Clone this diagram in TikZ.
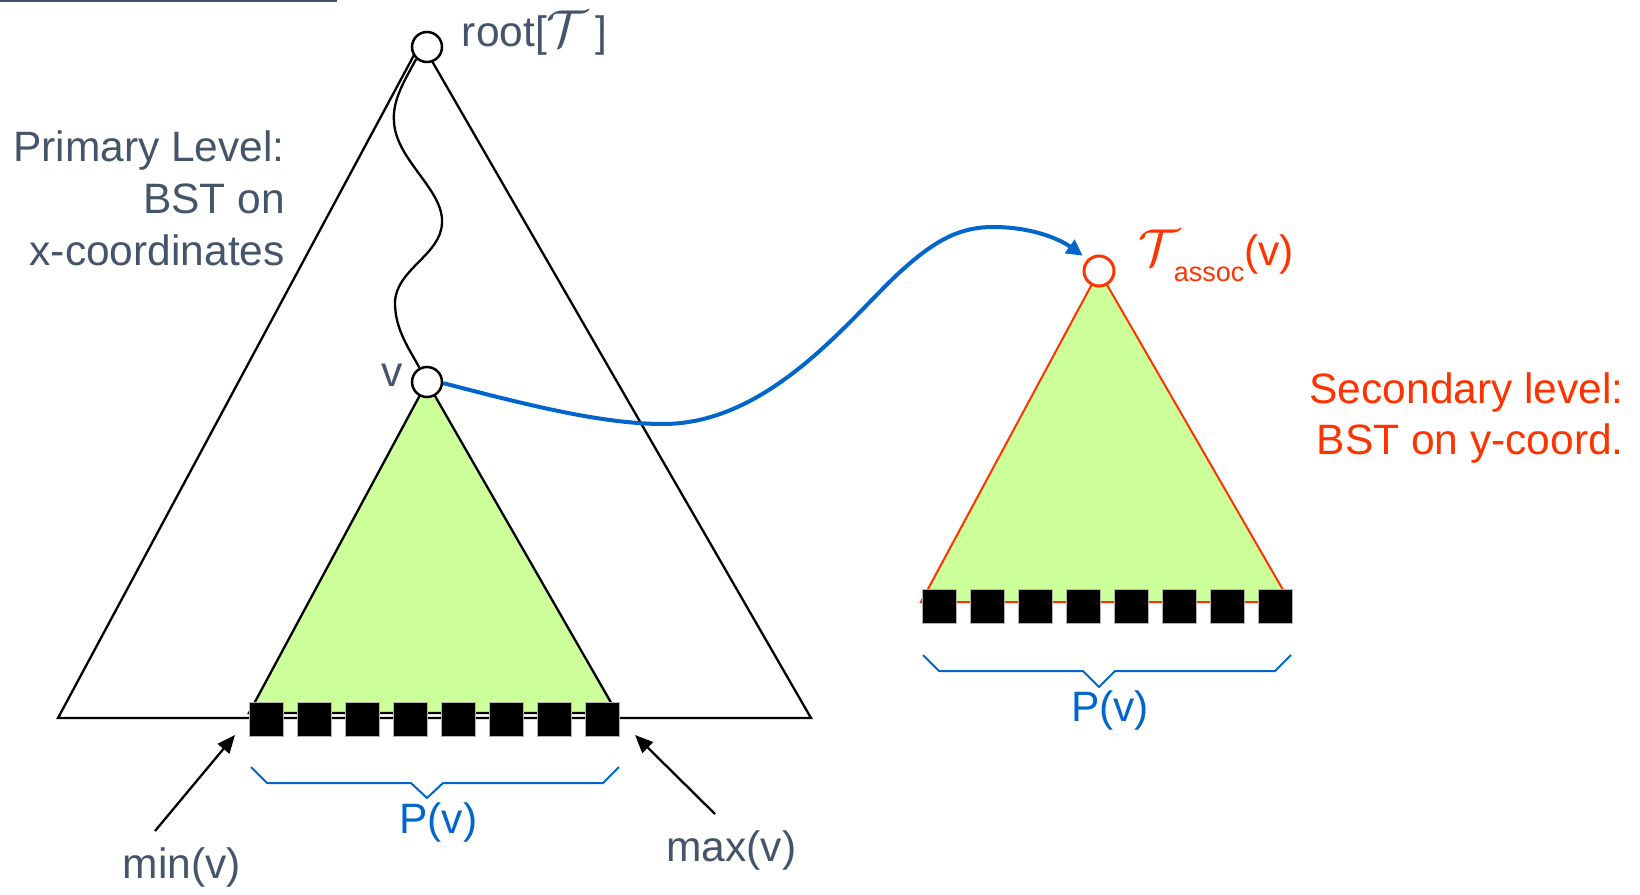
\documentclass[tikz,border=0pt]{standalone}
\usepackage{graphicx}
\usepackage{fontspec}
\setmainfont{Liberation Sans}
\usetikzlibrary{arrows.meta}
\definecolor{txt}{HTML}{44546A}
\definecolor{myblue}{HTML}{0066CC}
\definecolor{myred}{HTML}{FF3300}
\definecolor{mygreen}{HTML}{CCFF99}
\newcommand{\calT}{\scalebox{5.2}{\fontsize{10}{12}\selectfont$\mathcal{T}$}}
\begin{document}
\begin{tikzpicture}[x=1pt,y=-1pt,
  tri/.style={draw=black, line width=2.3pt, line join=miter},
  knot/.style={circle, draw=black, fill=white, line width=2.5pt, minimum size=30pt, inner sep=0pt},
  rknot/.style={circle, draw=myred, fill=white, line width=3pt, minimum size=30pt, inner sep=0pt},
  leaf/.style={rectangle, fill=black, draw=black!30, line width=0.8pt, minimum size=34pt, inner sep=0pt},
  brace/.style={draw=myblue, line width=2pt},
  pointer/.style={draw=black, line width=2.3pt, -{Triangle[length=18pt,width=15pt]}},
  lbl/.style={font=\fontsize{42.5}{51.7}\selectfont, text=txt, inner sep=0pt}
]
\useasboundingbox (0,0) rectangle (1640,894);

% key coordinates
\coordinate (rc) at (427,47);
\coordinate (apex) at (421,42);
\coordinate (vc) at (427,382);
\coordinate (tac) at (1099,271);
\coordinate (BL) at (58,718);
\coordinate (BR) at (811,718);
\coordinate (GL) at (249,713);
\coordinate (GR) at (617,713);
\coordinate (RL) at (921,602);
\coordinate (RR) at (1290,602);

% top rule
\draw[txt, line width=2.5pt] (0,1) -- (337,1);

% big triangle (primary tree)
\draw[tri] (apex) -- (BL) -- (BR) -- cycle;

% subtrees
\filldraw[fill=mygreen, draw=black, line width=2.3pt] (vc) -- (GL) -- (GR) -- cycle;
\filldraw[fill=mygreen, draw=myred, line width=2pt] (tac) -- (RL) -- (RR) -- cycle;

% nodes
\node[knot] (root) at (rc) {};
\node[knot] (v) at (vc) {};
\node[rknot] (ta) at (tac) {};

% search path
\draw[black, line width=2.3pt] (root.228) .. controls (405,80) and (392,100) .. (394,122)
  .. controls (396,160) and (444,190) .. (442,223)
  .. controls (441,255) and (395,270) .. (395,303)
  .. controls (395,330) and (410,350) .. (v.118);

% link to associated structure
\draw[myblue, line width=4pt, shorten >=6pt, -{Triangle[length=16pt,width=16pt]}] (v.-4)
  .. controls (520,403) and (600,424) .. (663,424)
  .. controls (770,424) and (850,318) .. (900,272)
  .. controls (935,240) and (960,227) .. (993,227)
  .. controls (1030,227) and (1058,238) .. (ta.134);

% leaves
\foreach \i in {0,...,7} {
  \node[leaf] (L\i) at ({266.5+48*\i},719) {};
  \node[leaf] (R\i) at ({939+48*\i},606.5) {};
}

% braces
\draw[brace] (251,767) -- (267,783) -- (411,783) -- (427,798) -- (443,783) -- (603,783) -- (619,767);
\draw[brace] (923,655) -- (939,671) -- (1083,671) -- (1099,687) -- (1115,671) -- (1275,671) -- (1291,655);

% min / max pointers
\coordinate (minfrom) at (155,831);
\coordinate (mintip) at (235,735);
\coordinate (maxfrom) at (715,814);
\coordinate (maxtip) at (635,735);
\draw[pointer] (minfrom) -- (mintip);
\draw[pointer] (maxfrom) -- (maxtip);

% labels
\node[lbl, anchor=base east] (prim) at (285,161.7)
  {\begin{tabular}[t]{@{}r@{}}Primary Level:\\BST on\\x-coordinates\end{tabular}};
\node[lbl, text=myred, anchor=base east] (sec) at (1624,403)
  {\begin{tabular}[t]{@{}r@{}}Secondary level:\\BST on y-coord.\end{tabular}};
\node[lbl, anchor=base west] (rootl) at (461.7,46.7)
  {root[\calT\,]};
\node[lbl, text=myred, anchor=base west] (tal) at (1138,265.7)
  {\calT\kern-6pt\raisebox{-16pt}{\fontsize{27}{27}\selectfont assoc}(v)};
\node[lbl, anchor=base] (vl) at (392.3,386) {v};
\node[lbl, text=myblue, anchor=base] (pl) at (438.3,833.3) {P(v)};
\node[lbl, text=myblue, anchor=base] (pr) at (1110,721.7) {P(v)};
\node[lbl, anchor=base] (minl) at (182,878) {min(v)};
\node[lbl, anchor=base] (maxl) at (731.3,861.7) {max(v)};
\end{tikzpicture}
\end{document}
